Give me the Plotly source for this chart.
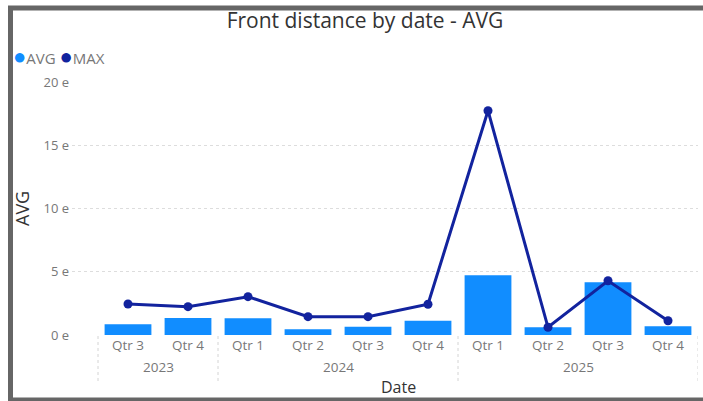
import plotly.graph_objects as go

# Quarterly front distance, grouped by year
years = ["2023", "2023", "2024", "2024", "2024", "2024", "2025", "2025", "2025", "2025"]
quarters = ["Qtr 3", "Qtr 4", "Qtr 1", "Qtr 2", "Qtr 3", "Qtr 4", "Qtr 1", "Qtr 2", "Qtr 3", "Qtr 4"]
avg_values = [0.85, 1.34, 1.32, 0.45, 0.65, 1.13, 4.72, 0.61, 4.17, 0.69]
max_values = [2.45, 2.24, 3.03, 1.45, 1.45, 2.43, 17.73, 0.61, 4.29, 1.13]
y_ticks = [0, 5, 10, 15, 20]
y_tick_labels = [f"{v} e" for v in y_ticks]

AVG_COLOR = "#118DFF"
MAX_COLOR = "#12239E"
TEXT_DARK = "#333333"
TEXT_GRAY = "#777777"
FRAME = "#666666"
DIVIDER = "#d4d4d4"
FONT = "Open Sans"

W, H = 703, 401
ML, MR, MT, MB = 72, 5, 82, 66
PW, PH = W - ML - MR, H - MT - MB


def px_x(px):
    return (px - ML) / PW


def px_y(py):
    return (H - MB - py) / PH


# One category per (year, quarter); the tick shows the quarter only
categories = [f"{y} {q}" for y, q in zip(years, quarters)]

fig = go.Figure()
fig.add_trace(go.Bar(
    x=categories, y=avg_values, name="AVG",
    marker=dict(color=AVG_COLOR, line=dict(width=0)), width=0.78,
))
fig.add_trace(go.Scatter(
    x=categories, y=max_values, name="MAX", mode="lines+markers",
    line=dict(color=MAX_COLOR, width=3),
    marker=dict(color=MAX_COLOR, size=9),
))

n = len(categories)
left_pad = 26 / 60  # extra grid space left of the first category
fig.update_xaxes(
    type="category",
    categoryorder="array", categoryarray=categories,
    tickmode="array", tickvals=categories, ticktext=quarters,
    range=[-0.5 - left_pad, n - 0.5],
    showgrid=False, zeroline=False, showline=False, ticks="",
    tickfont=dict(family=FONT, size=13.5, color=TEXT_GRAY),
)
fig.update_yaxes(
    range=[0, 20], tickmode="array", tickvals=y_ticks, ticktext=y_tick_labels,
    showgrid=True, gridcolor="#dddddd", griddash="dot", gridwidth=1,
    zeroline=False, showline=False, ticklabelstandoff=2,
    tickfont=dict(family=FONT, size=13, color=TEXT_GRAY),
)

# Year groups: label centred under its quarters, dotted dividers at the edges
groups = []
for i, y in enumerate(years):
    if groups and groups[-1][0] == y:
        groups[-1][2] = i
    else:
        groups.append([y, i, i])

annotations = []
shapes = []
div_style = dict(color=DIVIDER, width=1, dash="dot")
for y, first, last in groups:
    annotations.append(dict(
        text=y, x=(first + last) / 2, y=px_y(367), xref="x", yref="paper",
        showarrow=False, xanchor="center", yanchor="middle",
        font=dict(family=FONT, size=13.5, color=TEXT_GRAY)))
    shapes.append(dict(type="line", xref="x", yref="paper",
                       x0=first - 0.5, x1=first - 0.5, y0=px_y(336), y1=px_y(381),
                       line=div_style))
shapes.append(dict(type="line", xref="x", yref="paper",
                   x0=n - 0.5, x1=n - 0.5, y0=px_y(336), y1=px_y(381), line=div_style))

annotations += [
    dict(text="Date", x=px_x(398), y=px_y(387), xref="paper", yref="paper",
         showarrow=False, xanchor="center", yanchor="middle",
         font=dict(family=FONT, size=16, color=TEXT_DARK)),
    dict(text="AVG", x=px_x(22), y=px_y(209), xref="paper", yref="paper",
         showarrow=False, xanchor="center", yanchor="middle", textangle=-90,
         font=dict(family=FONT, size=18, color=TEXT_DARK)),
    dict(text=f"<span style='color:{AVG_COLOR};font-size:22px'>●</span>AVG "
              f"<span style='color:{MAX_COLOR};font-size:22px'>●</span>MAX",
         x=px_x(11), y=px_y(55), xref="paper", yref="paper",
         showarrow=False, xanchor="left", yanchor="middle",
         font=dict(family=FONT, size=15, color=TEXT_GRAY)),
]

# Frame around the visual: left, top and bottom edges
fx0, fy_top, fy_bot = px_x(10.5), px_y(8), px_y(400)
frame_line = dict(color=FRAME, width=5)
shapes += [
    dict(type="line", xref="paper", yref="paper", x0=fx0, x1=fx0, y0=fy_bot, y1=fy_top,
         line=frame_line, layer="above"),
    dict(type="line", xref="paper", yref="paper", x0=px_x(8), x1=px_x(W), y0=fy_top, y1=fy_top,
         line=frame_line, layer="above"),
    dict(type="line", xref="paper", yref="paper", x0=px_x(8), x1=px_x(W), y0=fy_bot, y1=fy_bot,
         line=frame_line, layer="above"),
]

fig.update_layout(
    width=W, height=H,
    margin=dict(l=ML, r=MR, t=MT, b=MB, autoexpand=False),
    paper_bgcolor="white", plot_bgcolor="white",
    title=dict(text="Front distance by date - AVG", x=365 / W, xanchor="center",
               y=1 - 21 / H, yanchor="middle",
               font=dict(family=FONT, size=21, color=TEXT_DARK)),
    annotations=annotations, shapes=shapes,
    showlegend=False,
)

fig.write_html("out.html")
